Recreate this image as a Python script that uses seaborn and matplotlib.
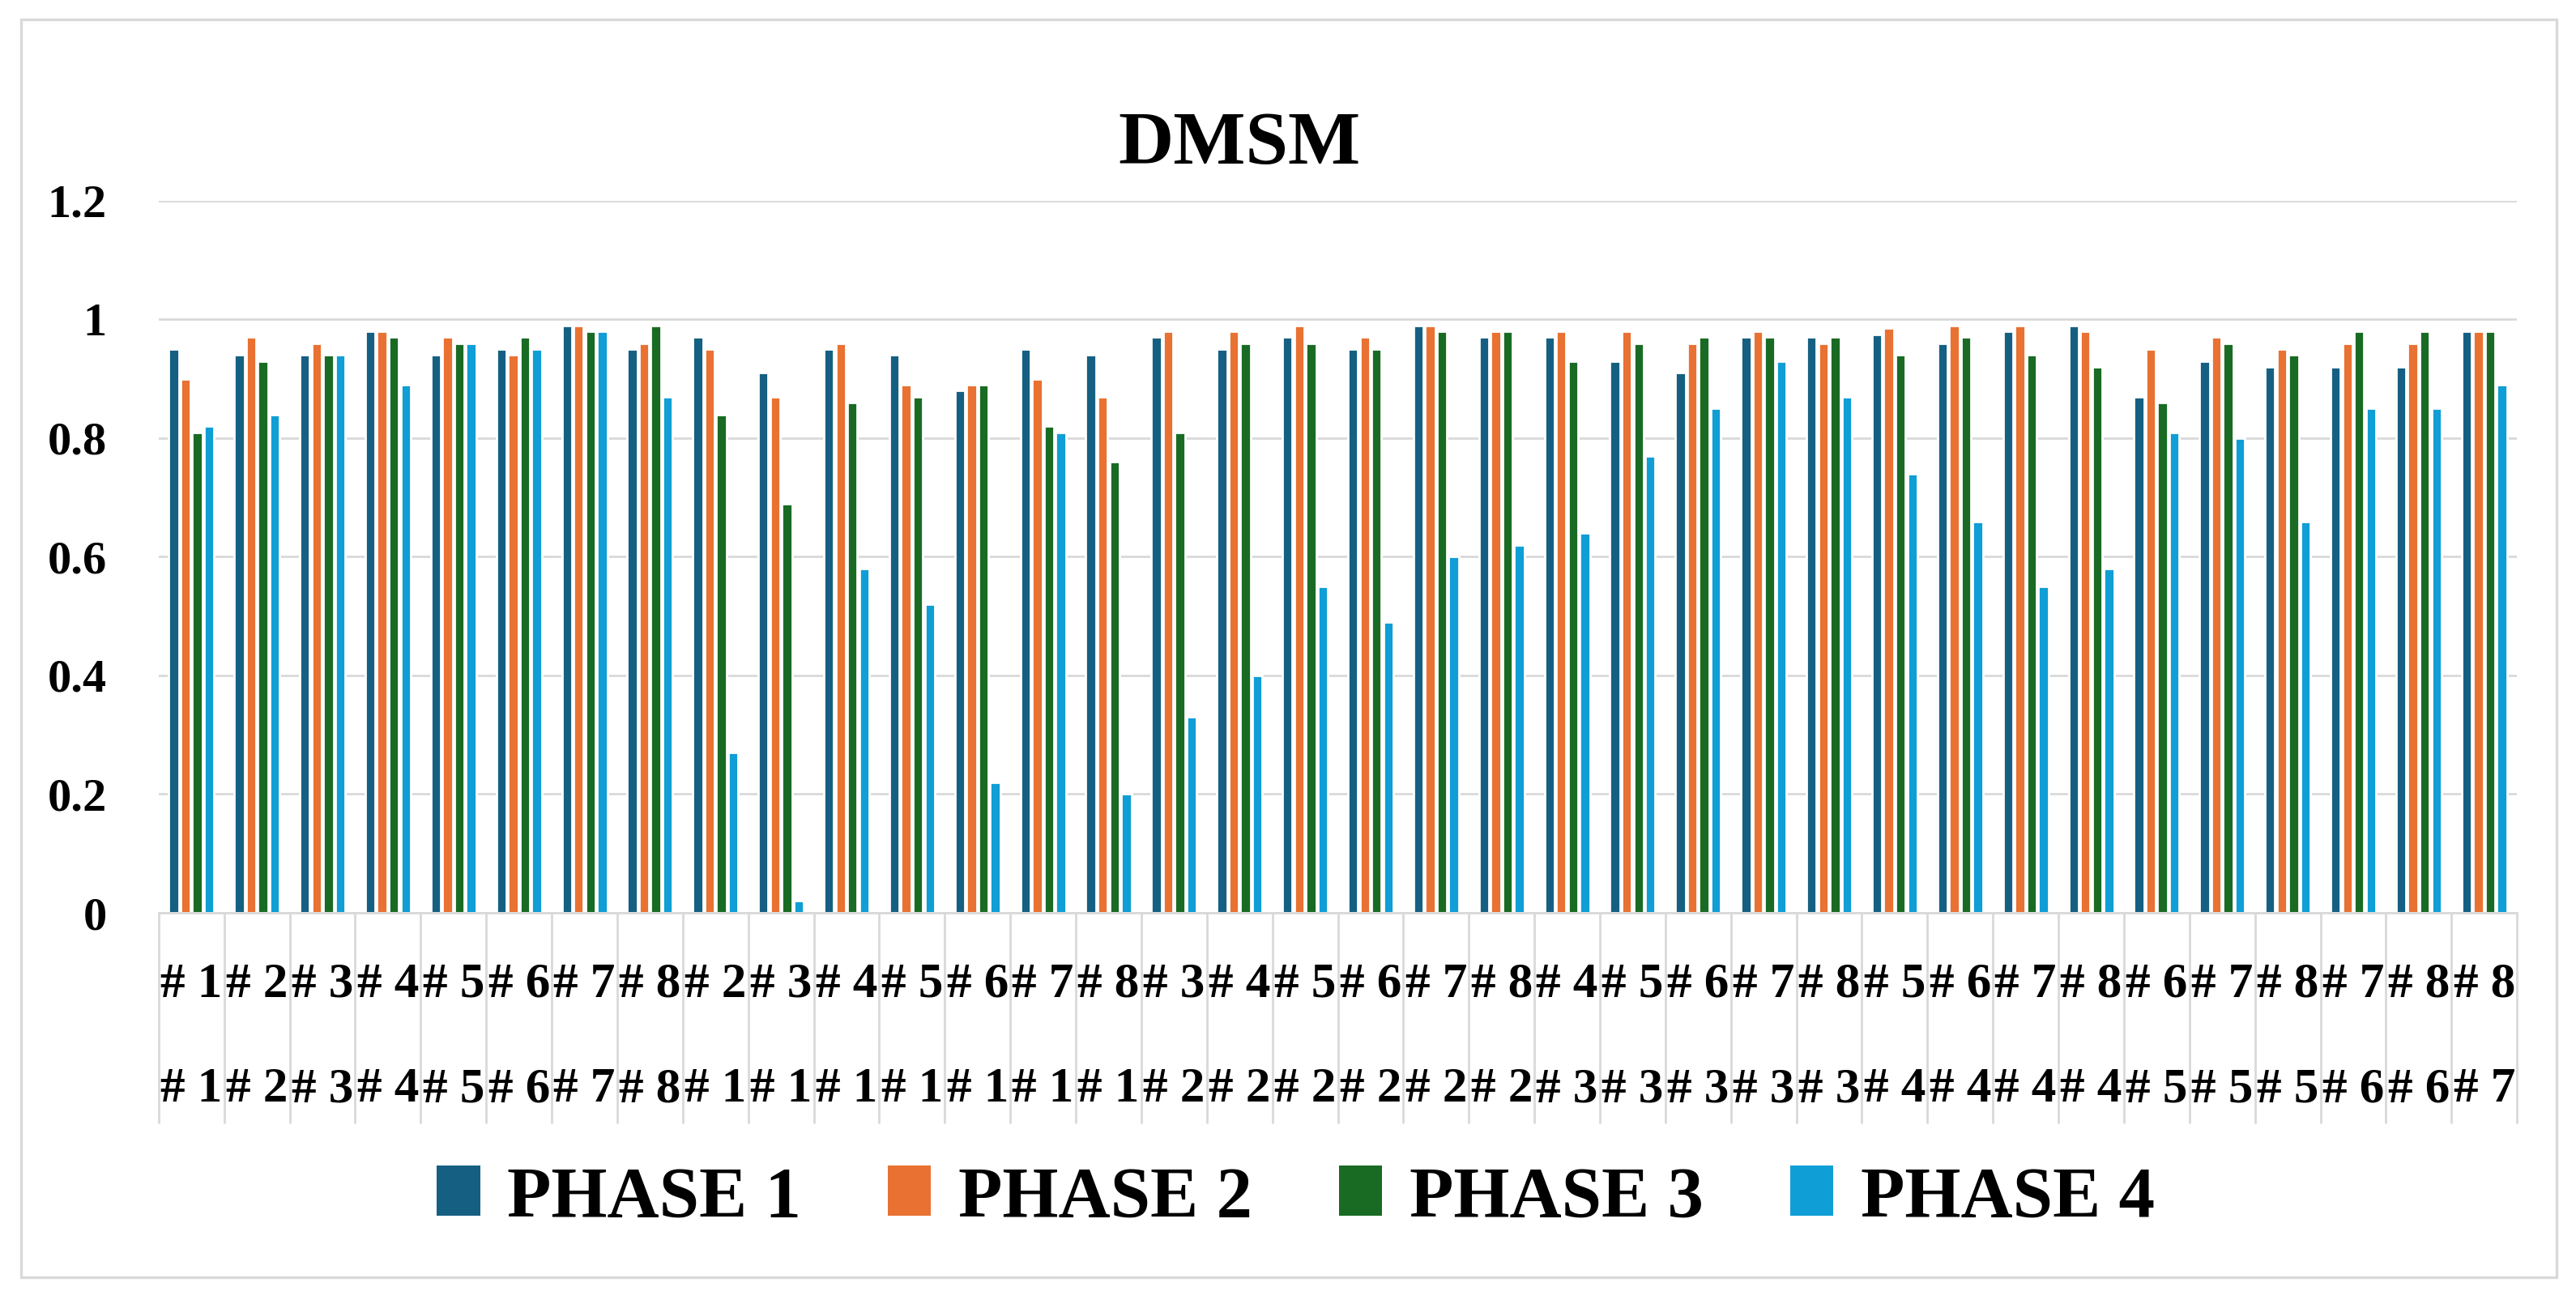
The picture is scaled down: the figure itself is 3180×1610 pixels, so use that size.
import matplotlib
matplotlib.use("Agg")
import matplotlib.pyplot as plt
import matplotlib.transforms as mtransforms
from matplotlib.patches import Rectangle, Patch
import pandas as pd
import seaborn as sns

# pair labels (upper row / lower row of the category axis)
top_ids = [1, 2, 3, 4, 5, 6, 7, 8,
           2, 3, 4, 5, 6, 7, 8,
           3, 4, 5, 6, 7, 8,
           4, 5, 6, 7, 8,
           5, 6, 7, 8,
           6, 7, 8,
           7, 8,
           8]
bottom_ids = [1, 2, 3, 4, 5, 6, 7, 8,
              1, 1, 1, 1, 1, 1, 1,
              2, 2, 2, 2, 2, 2,
              3, 3, 3, 3, 3,
              4, 4, 4, 4,
              5, 5, 5,
              6, 6,
              7]

phase1 = [0.95, 0.94, 0.94, 0.98, 0.94, 0.95, 0.99, 0.95,
          0.97, 0.91, 0.95, 0.94, 0.88, 0.95, 0.94,
          0.97, 0.95, 0.97, 0.95, 0.99, 0.97,
          0.97, 0.93, 0.91, 0.97, 0.97,
          0.975, 0.96, 0.98, 0.99,
          0.87, 0.93, 0.92,
          0.92, 0.92,
          0.98]
phase2 = [0.90, 0.97, 0.96, 0.98, 0.97, 0.94, 0.99, 0.96,
          0.95, 0.87, 0.96, 0.89, 0.89, 0.90, 0.87,
          0.98, 0.98, 0.99, 0.97, 0.99, 0.98,
          0.98, 0.98, 0.96, 0.98, 0.96,
          0.985, 0.99, 0.99, 0.98,
          0.95, 0.97, 0.95,
          0.96, 0.96,
          0.98]
phase3 = [0.81, 0.93, 0.94, 0.97, 0.96, 0.97, 0.98, 0.99,
          0.84, 0.69, 0.86, 0.87, 0.89, 0.82, 0.76,
          0.81, 0.96, 0.96, 0.95, 0.98, 0.98,
          0.93, 0.96, 0.97, 0.97, 0.97,
          0.94, 0.97, 0.94, 0.92,
          0.86, 0.96, 0.94,
          0.98, 0.98,
          0.98]
phase4 = [0.82, 0.84, 0.94, 0.89, 0.96, 0.95, 0.98, 0.87,
          0.27, 0.02, 0.58, 0.52, 0.22, 0.81, 0.20,
          0.33, 0.40, 0.55, 0.49, 0.60, 0.62,
          0.64, 0.77, 0.85, 0.93, 0.87,
          0.74, 0.66, 0.55, 0.58,
          0.81, 0.80, 0.66,
          0.85, 0.85,
          0.89]

phases = ["PHASE 1", "PHASE 2", "PHASE 3", "PHASE 4"]
colors = ["#156082", "#E97132", "#196B24", "#0F9ED5"]
yticks = [0, 0.2, 0.4, 0.6, 0.8, 1, 1.2]
ytick_labels = ["0", "0.2", "0.4", "0.6", "0.8", "1", "1.2"]

pairs = [f"{a}-{b}" for a, b in zip(top_ids, bottom_ids)]
rows = []
for name, vals in zip(phases, [phase1, phase2, phase3, phase4]):
    for p, v in zip(pairs, vals):
        rows.append({"pair": p, "phase": name, "value": v})
df = pd.DataFrame(rows)

sns.set_theme(style="white")
plt.rcParams["font.family"] = ["Liberation Serif", "DejaVu Serif"]
plt.rcParams["font.weight"] = "bold"
plt.rcParams["text.color"] = "black"
plt.rcParams["xtick.color"] = "black"
plt.rcParams["ytick.color"] = "black"

fig = plt.figure(figsize=(15.9, 8.05), dpi=200)
ax = fig.add_axes([0.0616, 0.300, 0.9155, 0.546])

sns.barplot(data=df, x="pair", y="value", hue="phase", order=pairs,
            hue_order=phases, palette=colors, width=0.72, gap=0.15,
            saturation=1, legend=False, ax=ax)

ax.set_ylim(0, 1.2)
ax.set_xlim(-0.5, len(pairs) - 0.5)
ax.set_yticks(yticks)
ax.set_yticklabels(ytick_labels, fontsize=21, fontweight="bold", color="black")
ax.set_axisbelow(True)
ax.yaxis.grid(True, color="#d9d9d9", linewidth=1.0)
ax.tick_params(axis="y", length=0, pad=23)
ax.set_xlabel("")
ax.set_ylabel("")
for side in ["left", "right", "top"]:
    ax.spines[side].set_visible(False)
ax.spines["bottom"].set_color("#d9d9d9")
ax.spines["bottom"].set_linewidth(1.0)

# category table: separators as long minor ticks, two rows of labels
ax.set_xticks(range(len(pairs)))
ax.set_xticklabels([""] * len(pairs))
ax.tick_params(axis="x", which="major", length=0)
ax.set_xticks([i - 0.5 for i in range(len(pairs) + 1)], minor=True)
ax.tick_params(axis="x", which="minor", bottom=True, length=93.6, width=1.0,
               color="#d9d9d9")

trans = mtransforms.blended_transform_factory(ax.transData, ax.transAxes)
for i, (a, b) in enumerate(zip(top_ids, bottom_ids)):
    ax.text(i, -0.101, f"# {a}", transform=trans, ha="center", va="center",
            fontsize=22, fontweight="bold", color="black")
    ax.text(i, -0.248, f"# {b}", transform=trans, ha="center", va="center",
            fontsize=22, fontweight="bold", color="black")

fig.text(0.481, 0.8745, "DMSM", ha="center", va="baseline",
         fontsize=34, fontweight="bold", color="black")

handles = [Patch(facecolor=c, edgecolor="none") for c in colors]
leg = fig.legend(handles, phases, loc="center", bbox_to_anchor=(0.503, 0.081),
                 ncol=4, frameon=False, prop={"size": 32, "weight": "bold"},
                 handlelength=0.6, handleheight=0.7, handletextpad=0.38,
                 columnspacing=1.2)
for t in leg.get_texts():
    t.set_color("black")

fig.patches.append(Rectangle((0.0082, 0.0205), 0.9843, 0.9645,
                             transform=fig.transFigure, fill=False,
                             edgecolor="#d9d9d9", linewidth=1.2))

fig.savefig("out.png", dpi=200, facecolor="white")
